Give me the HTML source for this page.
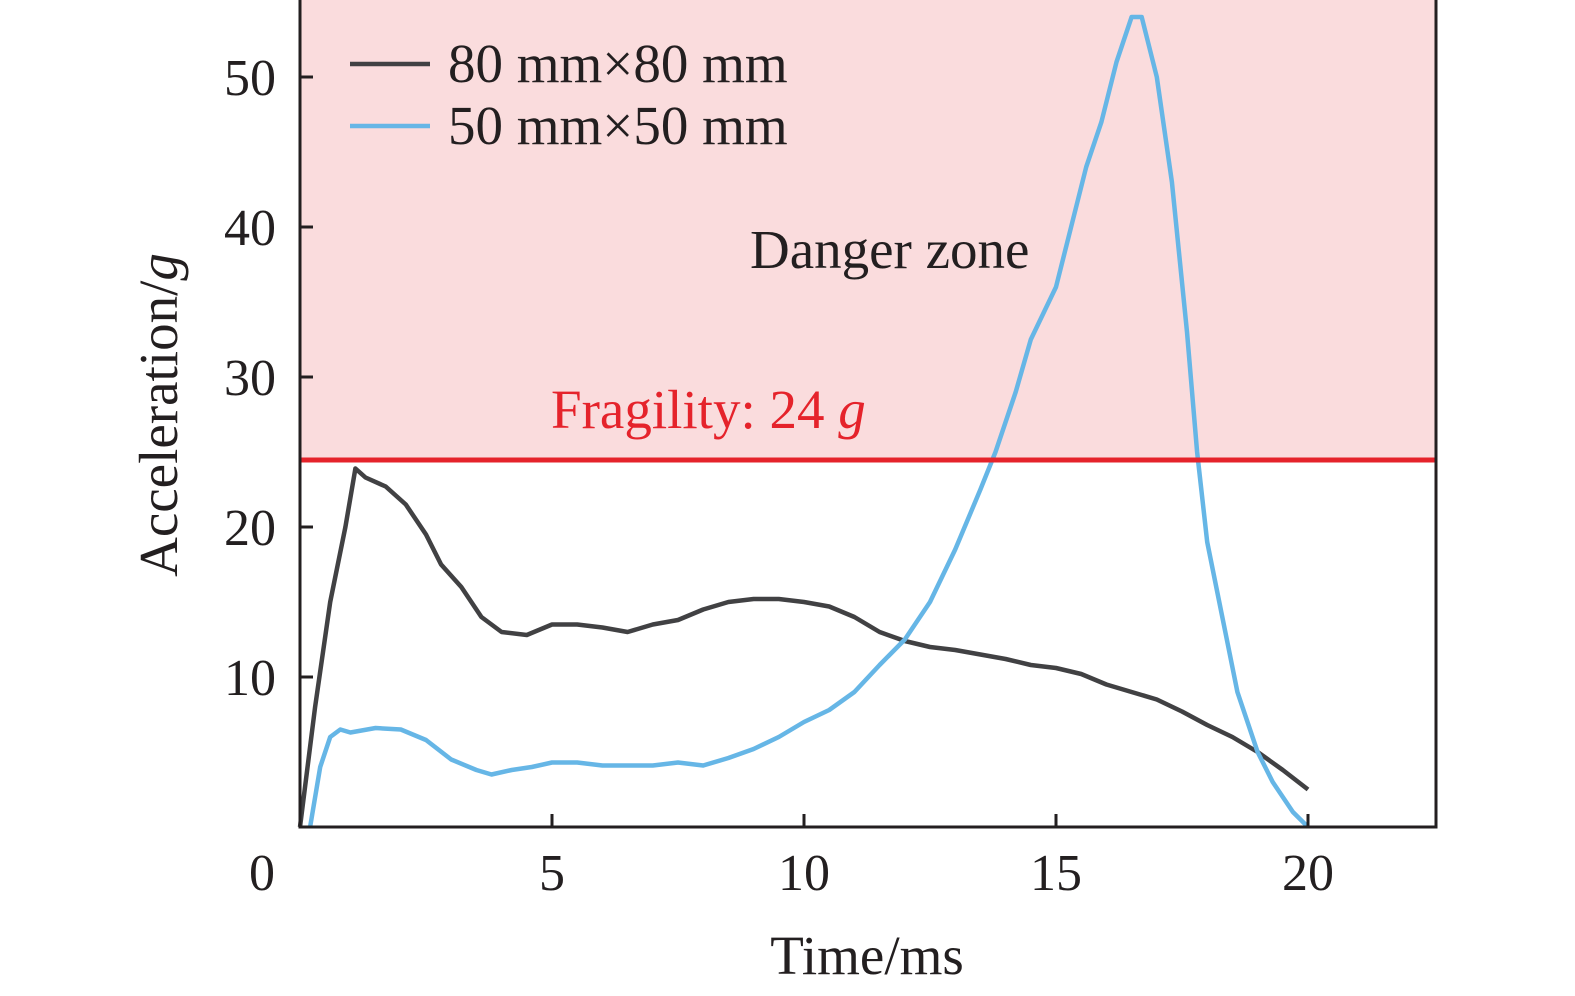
<!DOCTYPE html>
<html><head><meta charset="utf-8"><style>
body{margin:0;background:#fff}
svg{display:block;font-family:"Liberation Serif",serif}
</style></head><body>
<svg id="chart" width="1575" height="996">
<rect x="300" y="0" width="1136" height="460" fill="#fadcdd"/>
<g id="plot"></g>
<line x1="300" y1="460" x2="1436" y2="460" stroke="#e5232b" stroke-width="5"/>
<text x="750" y="268" font-size="55" fill="#231f20">Danger zone</text>
<text x="551" y="428" font-size="55" fill="#e5232b">Fragility: 24 <tspan font-style="italic">g</tspan></text>
<path d="M300 0V827H1436V0" fill="none" stroke="#231f20" stroke-width="3"/>
<g id="ticks" font-size="52" fill="#231f20"></g>
<text x="867" y="974" font-size="55" text-anchor="middle" fill="#231f20">Time/ms</text>
<text transform="translate(177,415) rotate(-90)" font-size="55" text-anchor="middle" fill="#231f20">Acceleration/<tspan font-style="italic">g</tspan></text>
<g>
<line x1="350" y1="64" x2="430" y2="64" stroke="#414143" stroke-width="4.5"/>
<text x="448" y="82" font-size="55" fill="#231f20">80 mm×80 mm</text>
<line x1="350" y1="126" x2="430" y2="126" stroke="#66b6e6" stroke-width="4.5"/>
<text x="448" y="144" font-size="55" fill="#231f20">50 mm×50 mm</text>
</g>
</svg>
<script>
const xTicks=[0,5,10,15,20];
const yTicks=[10,20,30,40,50];
const t80=[0,0.3,0.6,0.9,1.1,1.3,1.7,2.1,2.5,2.8,3.2,3.6,4,4.5,5,5.5,6,6.5,7,7.5,8,8.5,9,9.5,10,10.5,11,11.5,12,12.5,13,13.5,14,14.5,15,15.5,16,16.5,17,17.5,18,18.5,19,19.5,20];
const v80=[0,8,15,20,23.9,23.3,22.7,21.5,19.5,17.5,16,14,13,12.8,13.5,13.5,13.3,13,13.5,13.8,14.5,15,15.2,15.2,15,14.7,14,13,12.4,12,11.8,11.5,11.2,10.8,10.6,10.2,9.5,9,8.5,7.7,6.8,6,5,3.8,2.5];
const t50=[0.2,0.4,0.6,0.8,1,1.5,2,2.5,3,3.5,3.8,4.2,4.6,5,5.5,6,6.5,7,7.5,8,8.5,9,9.5,10,10.5,11,11.5,12,12.5,13,13.5,13.8,14.2,14.5,15,15.3,15.6,15.9,16.2,16.5,16.7,17,17.3,17.6,17.8,18,18.3,18.6,19,19.3,19.7,20];
const v50=[0,4,6,6.5,6.3,6.6,6.5,5.8,4.5,3.8,3.5,3.8,4,4.3,4.3,4.1,4.1,4.1,4.3,4.1,4.6,5.2,6,7,7.8,9,10.8,12.5,15,18.5,22.5,25,29,32.5,36,40,44,47,51,54,54,50,43,33,25,19,14,9,5,3,1,0];
const X=t=>300+t*50.4, Y=v=>827-v*15;
const NS="http://www.w3.org/2000/svg";
const plot=document.getElementById('plot'), ticks=document.getElementById('ticks');
function line(ts,vs,c,name){
  const p=document.createElementNS(NS,'path');
  p.setAttribute('d',ts.map((t,i)=>(i?'L':'M')+X(t).toFixed(1)+' '+Y(vs[i]).toFixed(1)).join(''));
  p.setAttribute('fill','none');p.setAttribute('stroke',c);p.setAttribute('stroke-width','4.5');p.setAttribute('stroke-linejoin','round');
  
  
  plot.appendChild(p);
}
line(t80,v80,'#414143','series-80mm');
line(t50,v50,'#66b6e6','series-50mm');
xTicks.forEach(t=>{
  const l=document.createElementNS(NS,'line');
  l.setAttribute('x1',X(t));l.setAttribute('x2',X(t));l.setAttribute('y1',827);l.setAttribute('y2',814);l.setAttribute('stroke','#231f20');l.setAttribute('stroke-width','3');
  
  
  ticks.appendChild(l);
  const s=document.createElementNS(NS,'text');
  s.setAttribute('x',X(t)-(t===0?38:0));s.setAttribute('y',890);s.setAttribute('text-anchor','middle');s.textContent=t;
  
  
  ticks.appendChild(s);
});
yTicks.forEach(v=>{
  const l=document.createElementNS(NS,'line');
  l.setAttribute('x1',300);l.setAttribute('x2',313);l.setAttribute('y1',Y(v));l.setAttribute('y2',Y(v));l.setAttribute('stroke','#231f20');l.setAttribute('stroke-width','3');
  
  
  ticks.appendChild(l);
  const s=document.createElementNS(NS,'text');
  s.setAttribute('x',276);s.setAttribute('y',Y(v)+18);s.setAttribute('text-anchor','end');s.textContent=v;
  
  
  ticks.appendChild(s);
});
</script>
</body></html>
